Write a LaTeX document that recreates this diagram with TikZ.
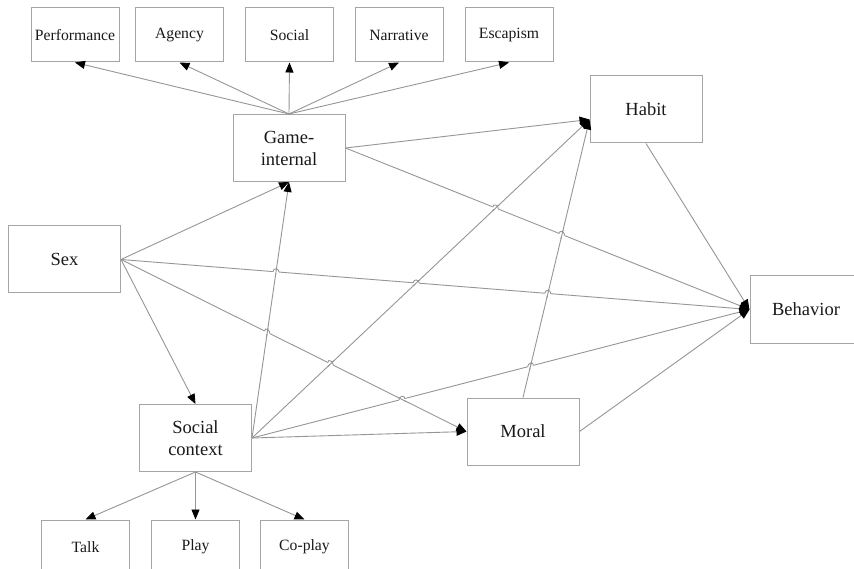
\documentclass[tikz,border=0pt]{standalone}
\usepackage{fontspec}
\setmainfont{Liberation Serif}
\usetikzlibrary{arrows.meta,calc}

\definecolor{edgegray}{RGB}{150,150,150}
\definecolor{boxgray}{RGB}{165,165,165}
\definecolor{inkgray}{RGB}{25,25,25}

\tikzset{
  bigbox/.style={draw=boxgray, line width=1pt, minimum width=112pt, minimum height=67pt,
    inner sep=0pt, align=center, text=inkgray, font=\fontsize{18.5}{22}\selectfont},
  smallbox/.style={draw=boxgray, line width=1pt, minimum width=88pt, minimum height=54pt,
    inner sep=0pt, text=inkgray, font=\fontsize{15.7}{18}\selectfont},
  plainline/.style={draw=edgegray, line width=0.9pt},
  link/.style={plainline, -{Triangle[length=10pt,width=8pt,color=black]}},
}

% small upward arc where the line #1--#2 jumps over the line #3--#4
\newcommand{\crosshop}[4]{%
  \coordinate (hx) at (intersection of #1--#2 and #3--#4);
  \coordinate (ha) at ($(hx)!3pt!(#1)$);
  \coordinate (hb) at ($(hx)!3pt!(#2)$);
  \draw[white, line width=3pt] (ha) -- (hb);
  \draw[plainline] ($(hx)!4.5pt!(#3)$) -- ($(hx)!4.5pt!(#4)$);
  \draw[plainline] (ha) .. controls ($(ha)+(0,-4)$) and ($(hb)+(0,-4)$) .. (hb);
}

\begin{document}
\begin{tikzpicture}[x=1pt, y=-1pt]
  \fill[white] (0,0) rectangle (854,569);
  \useasboundingbox (0,0) rectangle (854,569);
  \clip (0,0) rectangle (854,569);

  % motive boxes along the top
  \node[smallbox] (perf)   at (75,35)    {Performance};
  \node[smallbox] (agency) at (179.5,35) {Agency};
  \node[smallbox] (social) at (289.5,35) {Social};
  \node[smallbox] (narr)   at (399,35)   {Narrative};
  \node[smallbox] (esc)    at (509,35)   {Escapism};

  % main constructs
  \node[bigbox] (gi)    at (289,148)    {Game-\\internal};
  \node[bigbox] (habit) at (646,109.5)  {Habit};
  \node[bigbox] (sex)   at (64.5,259.5) {Sex};
  \node[bigbox] (beh)   at (806,309.5)  {Behavior};
  \node[bigbox] (sc)    at (195.5,438)  {Social\\context};
  \node[bigbox] (moral) at (523,431.5)  {Moral};

  % social context indicators
  \node[smallbox] (talk)   at (85.5,547)  {Talk};
  \node[smallbox] (play)   at (195.5,547) {Play};
  \node[smallbox] (coplay) at (304.5,547) {Co-play};

  \coordinate (habitIn) at ($(habit.west)+(0,10)$);

  % game-internal motives
  \draw[link] (gi.north) -- (perf.south);
  \draw[link] (gi.north) -- (agency.south);
  \draw[link] (gi.north) -- (social.south);
  \draw[link] (gi.north) -- (narr.south);
  \draw[link] (gi.north) -- (esc.south);

  % social context indicators
  \draw[link] (sc.south) -- (talk.north);
  \draw[link] (sc.south) -- (play.north);
  \draw[link] (sc.south) -- (coplay.north);

  % structural paths
  \draw[link] (gi.east) -- (habitIn);
  \draw[link] (gi.east) -- (beh.west);
  \draw[link] (sex.east) -- (gi.south);
  \draw[link] (sex.east) -- (beh.west);
  \draw[link] (sex.east) -- (moral.west);
  \draw[link] (sex.east) -- (sc.north);
  \draw[link] (sc.east) -- (gi.south);
  \draw[link] (sc.east) -- (habitIn);
  \draw[link] (sc.east) -- (beh.west);
  \draw[link] (sc.east) -- (moral.west);
  \draw[link] (habit.south) -- (beh.west);
  \draw[link] (moral.north) -- (habitIn);
  \draw[link] (moral.east) -- (beh.west);

  % line jumps at crossings
  \crosshop{gi.east}{beh.west}{sc.east}{habitIn}
  \crosshop{gi.east}{beh.west}{moral.north}{habitIn}
  \crosshop{sex.east}{beh.west}{sc.east}{gi.south}
  \crosshop{sex.east}{beh.west}{sc.east}{habitIn}
  \crosshop{sex.east}{beh.west}{moral.north}{habitIn}
  \crosshop{sex.east}{moral.west}{sc.east}{gi.south}
  \crosshop{sex.east}{moral.west}{sc.east}{habitIn}
  \crosshop{sc.east}{beh.west}{sex.east}{moral.west}
  \crosshop{sc.east}{beh.west}{moral.north}{habitIn}
\end{tikzpicture}
\end{document}
